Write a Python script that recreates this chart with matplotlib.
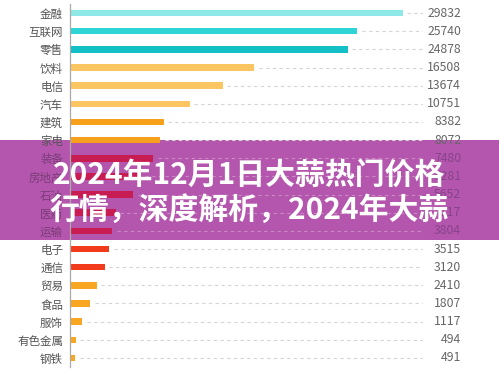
import matplotlib
matplotlib.use("Agg")
import matplotlib.pyplot as plt
from matplotlib.patches import Rectangle
from matplotlib.transforms import blended_transform_factory
import numpy as np

plt.rcParams['font.family'] = ['Noto Sans CJK SC', 'DejaVu Sans']

# data, top to bottom
industries = ["金融", "互联网", "零售", "饮料", "电信", "汽车", "建筑", "家电", "装备", "房地产",
              "石油", "医药", "运输", "电子", "通信", "贸易", "食品", "服饰", "有色金属", "钢铁"]
values = [29832, 25740, 24878, 16508, 13674, 10751, 8382, 8072, 7480, 6281,
          5652, 4117, 3804, 3515, 3120, 2410, 1807, 1117, 494, 491]
title_lines = ["2024年12月1日大蒜热门价格", "行情，深度解析，2024年大蒜"]

# styles
bar_colors = ["#8ee8e6", "#2fd4d6", "#12c0c6", "#fbc661", "#fbc661", "#fbc661", "#f6a01c",
              "#f6a01c", "#c81d52", "#c81d52", "#c81d52", "#c81d52", "#c81d52", "#f23b1c",
              "#f23b1c", "#f9a623", "#f9a623", "#f9a623", "#f9a623", "#f9a623"]
covered = set(range(8, 13))  # rows sitting under the banner
banner_color = "#b456ad"

fig = plt.figure(figsize=(4.99, 3.81), dpi=100)
fig.patch.set_facecolor("white")

# banner behind the axes
banner = Rectangle((0, 0.370), 1, 0.2625, transform=fig.transFigure,
                   facecolor=banner_color, edgecolor="none", zorder=-1)
fig.patches.append(banner)

ax = fig.add_axes([0.1403, 0.0367, 0.7074, 0.9528])
ax.patch.set_alpha(0)

y = np.arange(len(industries))
xmax = 31630
ax.barh(y, values, height=0.36, color=bar_colors, zorder=2)

for i, v in enumerate(values):
    grid_c = "#c98ac4" if i in covered else "#d4d4d4"
    ax.hlines(i, v + 400, xmax, colors=grid_c, linestyles=(0, (3, 3)), lw=0.8, zorder=1)

trans = blended_transform_factory(ax.transAxes, ax.transData)
for i, v in enumerate(values):
    c = "#86448a" if i in covered else "#666666"
    ax.text(1.108, i, str(v), transform=trans, ha="right", va="center",
            fontsize=8.8, color=c, clip_on=False)

ax.set_xlim(0, xmax)
ax.set_ylim(len(industries) - 0.5, -0.5)
ax.set_yticks(y)
ax.set_yticklabels(industries, fontsize=8.3)
for i, lab in enumerate(ax.get_yticklabels()):
    lab.set_color("#7a3c78" if i in covered else "#555555")
ax.tick_params(axis="y", length=0, pad=5)
ax.set_xticks([])
for s in ["top", "right", "bottom"]:
    ax.spines[s].set_visible(False)
ax.spines["left"].set_color("#aaaaaa")
ax.spines["left"].set_linewidth(0.9)

# banner text on top
fig.text(0.5, 1 - 175 / 381, title_lines[0], ha="center", va="center", fontsize=21.5,
         fontweight="bold", color="white", zorder=10)
fig.text(0.5, 1 - 210 / 381, title_lines[1], ha="center", va="center", fontsize=21.5,
         fontweight="bold", color="white", zorder=10)

fig.savefig("out.png", dpi=100)
